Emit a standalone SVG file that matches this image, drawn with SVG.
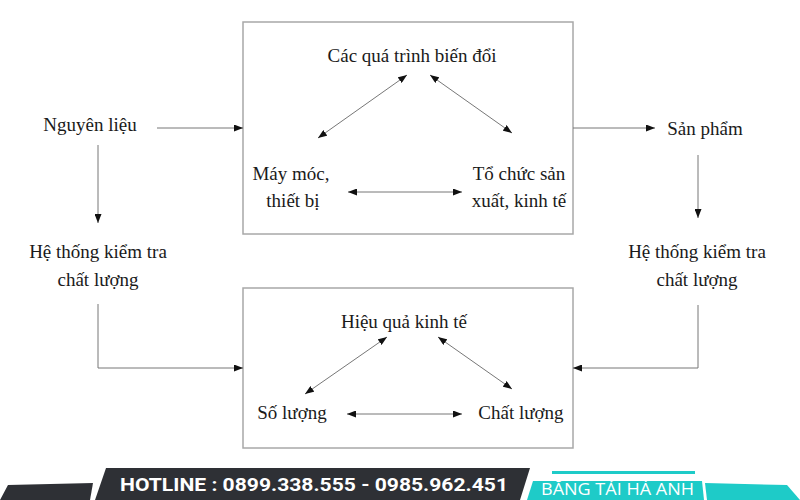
<svg xmlns="http://www.w3.org/2000/svg" width="800" height="500" viewBox="0 0 800 500">
<defs>
<marker id="ah" viewBox="0 0 10 10" refX="10" refY="5" markerWidth="9" markerHeight="7" markerUnits="userSpaceOnUse" orient="auto-start-reverse" preserveAspectRatio="none">
<path d="M0,0 L10,5 L0,10 z" fill="#111"/>
</marker>
<style>
.box{fill:#fff;stroke:#a8a8a8;stroke-width:1.5}
.t{font-family:"Liberation Serif","Times New Roman",serif;font-size:19px;fill:#1a1a1a;text-anchor:middle}
.c{fill:none;stroke:#777;stroke-width:1}
.one{marker-end:url(#ah)}
.two{marker-start:url(#ah);marker-end:url(#ah)}
</style>
</defs>
<rect width="800" height="500" fill="#fff"/>
<g id="box-top">
<rect class="box" x="243" y="22" width="330" height="212"/>
</g>
<g id="box-bottom">
<rect class="box" x="243" y="288" width="330" height="160"/>
</g>
<g id="n-bien-doi"><text class="t" x="412" y="62">Các quá trình biến đổi</text></g>
<g id="n-may-moc"><text class="t" x="291" y="180">Máy móc,</text><text class="t" x="293" y="207">thiết bị</text></g>
<g id="n-to-chuc"><text class="t" x="519" y="180">Tổ chức sản</text><text class="t" x="519" y="207">xuất, kinh tế</text></g>
<g id="n-hieu-qua"><text class="t" x="404" y="328">Hiệu quả kinh tế</text></g>
<g id="n-so-luong"><text class="t" x="292" y="419">Số lượng</text></g>
<g id="n-chat-luong"><text class="t" x="521" y="419">Chất lượng</text></g>
<g id="n-nguyen-lieu"><text class="t" x="90" y="131">Nguyên liệu</text></g>
<g id="n-htkt-left"><text class="t" x="98" y="258">Hệ thống kiểm tra</text><text class="t" x="98" y="286">chất lượng</text></g>
<g id="n-san-pham"><text class="t" x="705" y="135">Sản phẩm</text></g>
<g id="n-htkt-right"><text class="t" x="697" y="258">Hệ thống kiểm tra</text><text class="t" x="697" y="286">chất lượng</text></g>
<g id="connectors">
<line class="c one" x1="157" y1="128" x2="243" y2="128"/>
<line class="c one" x1="98" y1="145" x2="98" y2="223"/>
<polyline class="c one" points="98,304 98,368 243,368"/>
<line class="c one" x1="573" y1="128" x2="655" y2="128"/>
<line class="c one" x1="698" y1="155" x2="698" y2="218"/>
<polyline class="c one" points="698,305 698,368 573,368"/>
<line class="c two" x1="407" y1="75" x2="318" y2="138"/>
<line class="c two" x1="430" y1="75" x2="512" y2="133"/>
<line class="c two" x1="348" y1="192" x2="462" y2="192"/>
<line class="c two" x1="387" y1="337" x2="305" y2="394"/>
<line class="c two" x1="438" y1="337" x2="512" y2="389"/>
<line class="c two" x1="347" y1="414" x2="462" y2="414"/>
</g>
<g id="banner">
<polygon points="8,485 93,483 90,500 0,500" fill="#2e3035"/>
<polygon points="106,468 530,468 520,500 95,500" fill="#2e3035"/>
<text x="120" y="491" font-family="Roboto,'Liberation Sans',sans-serif" font-weight="bold" font-size="19" fill="#fff" textLength="388" lengthAdjust="spacingAndGlyphs">HOTLINE : 0899.338.555 - 0985.962.451</text>
<polygon points="552,471 695,471 695,474 552,474" fill="#1ecbc8"/>
<polygon points="533,481 702,481 704,500 527,500" fill="#1ecbc8"/>
<text x="541" y="495" font-family="'Open Sans','Liberation Sans',sans-serif" font-weight="500" font-size="16.5" fill="#fff" textLength="153" lengthAdjust="spacingAndGlyphs">BĂNG TẢI HÀ ANH</text>
<polygon points="705,483 787,485 800,500 707,500" fill="#1ecbc8"/>
</g>
</svg>
